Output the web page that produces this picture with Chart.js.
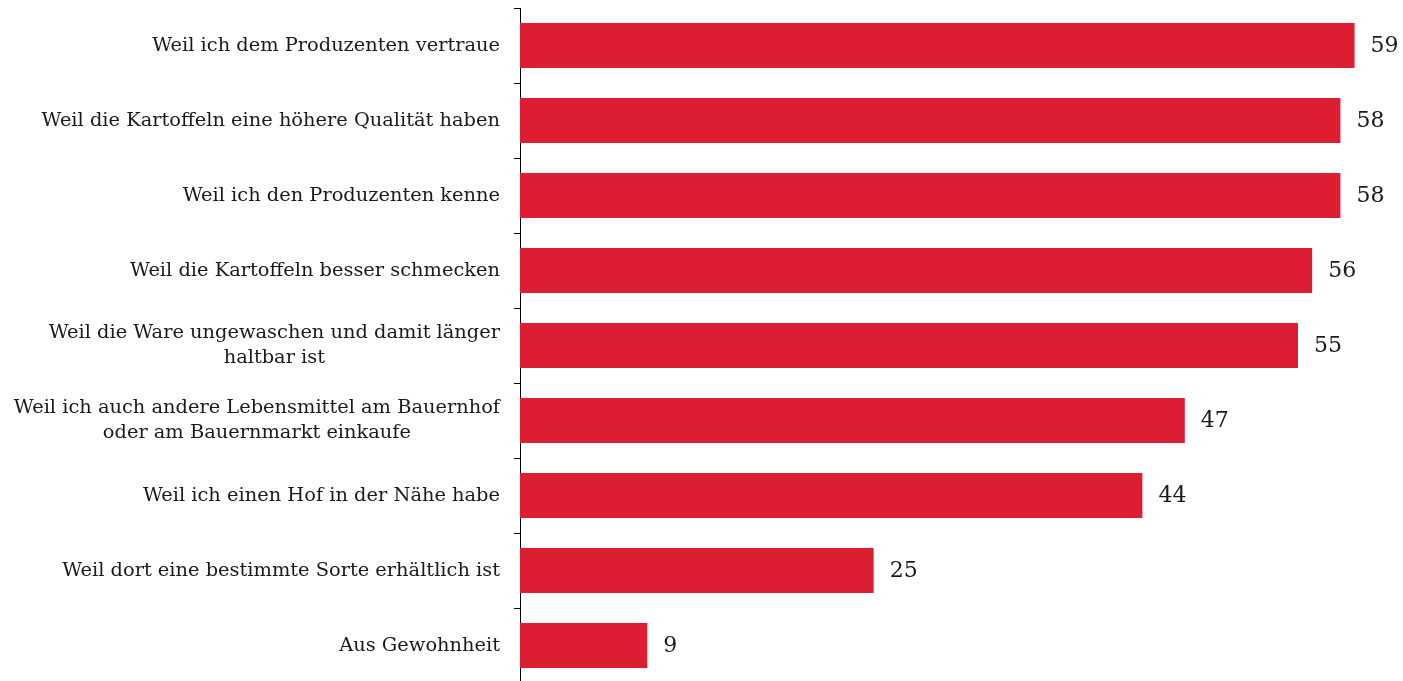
<!DOCTYPE html>
<html>
<head>
<meta charset="utf-8">
<script src="https://cdn.jsdelivr.net/npm/chart.js@4.4.1/dist/chart.umd.min.js"></script>
<style>
    html, body { margin: 0; padding: 0; background: #fff; overflow: hidden; }
    canvas { display: block; }
</style>
</head>
<body>
<canvas id="reasons" width="1403" height="684"></canvas>
<script>
// Gründe für den Kartoffelkauf direkt beim Produzenten (Angaben in %)
const categories = [
    ['Weil ich dem Produzenten vertraue'],
    ['Weil die Kartoffeln eine höhere Qualität haben'],
    ['Weil ich den Produzenten kenne'],
    ['Weil die Kartoffeln besser schmecken'],
    ['Weil die Ware ungewaschen und damit länger', 'haltbar ist'],
    ['Weil ich auch andere Lebensmittel am Bauernhof', 'oder am Bauernmarkt einkaufe'],
    ['Weil ich einen Hof in der Nähe habe'],
    ['Weil dort eine bestimmte Sorte erhältlich ist'],
    ['Aus Gewohnheit']
];
const shares = [59, 58, 58, 56, 55, 47, 44, 25, 9];

const barColor = '#dc1d32';
const serif = "'DejaVu Serif', 'Liberation Serif', serif";

// draws category labels (multi-line ones centred on each other) and value labels
const labelPlugin = {
    id: 'labelPlugin',
    afterDraw(chart) {
        const ctx = chart.ctx;
        const yScale = chart.scales.y;
        const meta = chart.getDatasetMeta(0);
        ctx.save();
        ctx.fillStyle = '#1a1a1a';

        ctx.font = '19.4px ' + serif;
        ctx.textBaseline = 'middle';
        ctx.textAlign = 'center';
        const rightEdge = yScale.right - 20;
        const lineHeight = 25;
        categories.forEach((lines, i) => {
            const y = yScale.getPixelForValue(i);
            const widest = Math.max(...lines.map(l => ctx.measureText(l).width));
            const cx = rightEdge - widest / 2;
            const top = y - (lines.length - 1) * lineHeight / 2;
            lines.forEach((line, j) => {
                ctx.fillText(line, cx, top + j * lineHeight);
            });
        });

        ctx.font = '22px ' + serif;
        ctx.textAlign = 'left';
        meta.data.forEach((bar, i) => {
            ctx.fillText(String(shares[i]), bar.x + 16, bar.y + 1);
        });
        ctx.restore();
    }
};

const ctx = document.getElementById('reasons').getContext('2d');
new Chart(ctx, {
    type: 'bar',
    data: {
        labels: categories.map(c => c.join(' ')),
        datasets: [{
            data: shares,
            backgroundColor: barColor,
            borderWidth: 0,
            categoryPercentage: 0.6,
            barPercentage: 1
        }]
    },
    options: {
        indexAxis: 'y',
        responsive: false,
        animation: false,
        devicePixelRatio: 1,
        layout: { padding: { top: 8, bottom: 1, left: 0, right: 6 } },
        plugins: {
            legend: { display: false },
            tooltip: { enabled: false }
        },
        scales: {
            x: {
                display: false,
                min: 0,
                max: 62
            },
            y: {
                afterFit(scale) { scale.width = 520; },
                ticks: { display: false },
                grid: {
                    drawOnChartArea: false,
                    drawTicks: true,
                    tickLength: 6,
                    color: '#000',
                    lineWidth: 1
                },
                border: { display: true, color: '#000', width: 1 }
            }
        }
    },
    plugins: [labelPlugin]
});
</script>
</body>
</html>
